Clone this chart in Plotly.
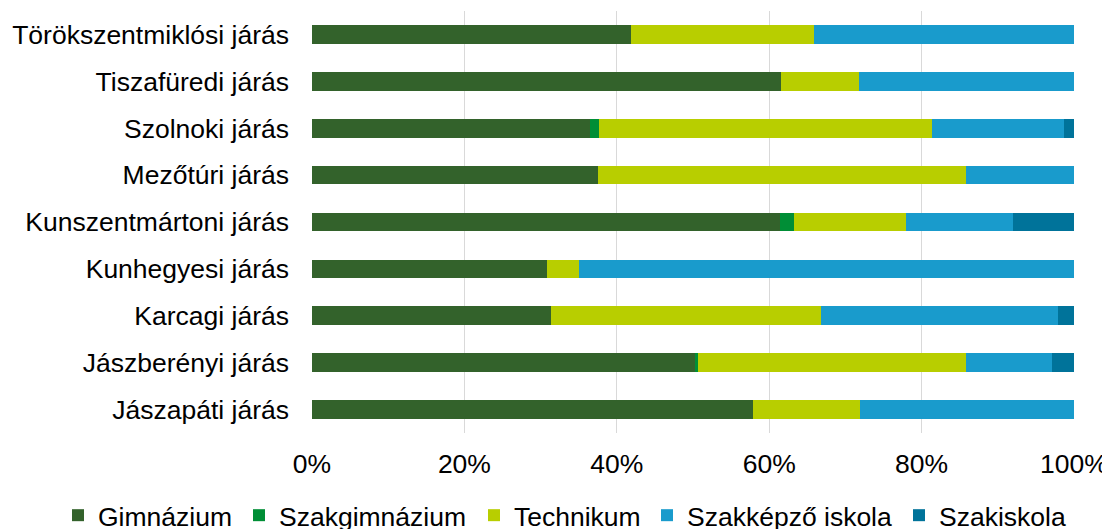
import plotly.graph_objects as go

categories = ["Jászapáti járás", "Jászberényi járás", "Karcagi járás", "Kunhegyesi járás",
              "Kunszentmártoni járás", "Mezőtúri járás", "Szolnoki járás",
              "Tiszafüredi járás", "Törökszentmiklósi járás"]

gimnazium      = [57.9, 50.2, 31.4, 30.8, 61.4, 37.5, 36.5, 61.5, 41.9]
szakgimnazium  = [0.0, 0.5, 0.0, 0.0, 1.9, 0.0, 1.1, 0.0, 0.0]
technikum      = [14.0, 35.1, 35.4, 4.3, 14.6, 48.3, 43.7, 10.3, 24.0]
szakkepzo      = [28.1, 11.3, 31.1, 64.9, 14.1, 14.2, 17.4, 28.2, 34.1]
szakiskola     = [0.0, 2.9, 2.1, 0.0, 8.0, 0.0, 1.3, 0.0, 0.0]

series = [
    ("Gimnázium", gimnazium, "#33622B"),
    ("Szakgimnázium", szakgimnazium, "#008E36"),
    ("Technikum", technikum, "#B8CE00"),
    ("Szakképző iskola", szakkepzo, "#199BCC"),
    ("Szakiskola", szakiskola, "#00739A"),
]

# left edge (in figure pixels) of each legend entry's text
legend_text_x = [88, 269, 504, 677, 929]

W, H = 1102, 521
font = "Liberation Sans, Arial, sans-serif"
fs = 26.5

fig = go.Figure()
legend_layouts = {}
for i, (name, vals, color) in enumerate(series):
    lname = f"legend{i + 2}"
    fig.add_trace(go.Bar(
        y=categories, x=[v / 100 for v in vals], name=name, orientation="h",
        marker=dict(color=color, line=dict(width=0)), legend=lname,
    ))
    legend_layouts[lname] = dict(
        orientation="h", xref="container", yref="container",
        x=(legend_text_x[i] - 38) / W, xanchor="left",
        y=0.026, yanchor="middle", font=dict(size=fs),
        itemwidth=30, bgcolor="rgba(0,0,0,0)",
    )

fig.update_layout(
    barmode="stack",
    bargap=0.6,
    width=W, height=H,
    showlegend=True,
    margin=dict(l=304, r=36, t=3, b=96, autoexpand=False),
    paper_bgcolor="white", plot_bgcolor="white",
    font=dict(family=font, size=fs, color="#000000"),
    xaxis=dict(range=[0, 1], tickformat=".0%", dtick=0.2, showgrid=True,
               gridcolor="#D9D9D9", gridwidth=1, zeroline=False,
               showline=False, ticks="", ticklabelstandoff=12,
               tickfont=dict(size=fs)),
    yaxis=dict(showgrid=False, zeroline=False, showline=False, ticks="",
               ticklabelstandoff=22, tickfont=dict(size=fs)),
    **legend_layouts,
)

fig.write_html("out.html")
